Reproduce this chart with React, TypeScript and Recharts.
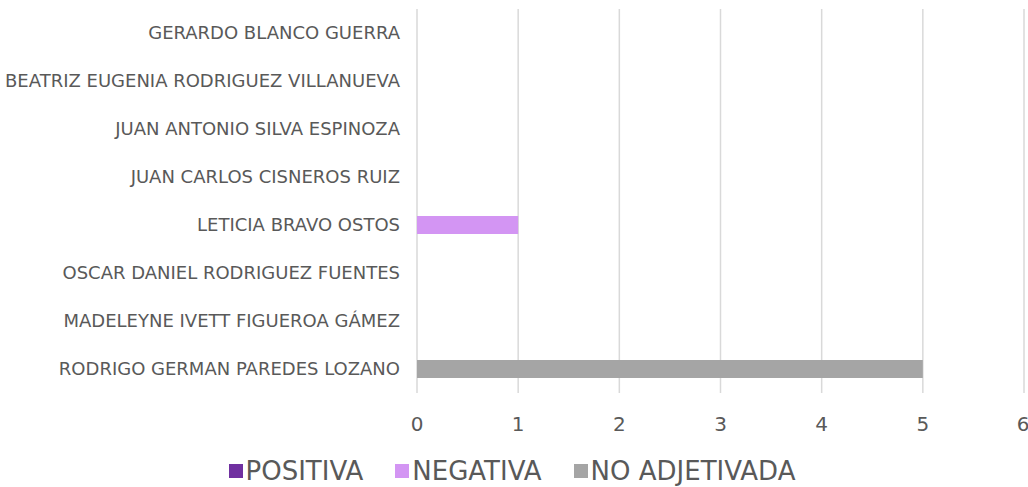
import React from 'react';
import { BarChart, Bar, XAxis, YAxis, CartesianGrid, Legend } from 'recharts';

const categories = [
  'GERARDO BLANCO GUERRA',
  'BEATRIZ EUGENIA RODRIGUEZ VILLANUEVA',
  'JUAN ANTONIO SILVA ESPINOZA',
  'JUAN CARLOS CISNEROS RUIZ',
  'LETICIA BRAVO OSTOS',
  'OSCAR DANIEL RODRIGUEZ FUENTES',
  'MADELEYNE IVETT FIGUEROA GÁMEZ',
  'RODRIGO GERMAN PAREDES LOZANO',
];
const positiva = [0, 0, 0, 0, 0, 0, 0, 0];
const negativa = [0, 0, 0, 0, 1, 0, 0, 0];
const noAdjetivada = [0, 0, 0, 0, 0, 0, 0, 5];
const xTicks = [0, 1, 2, 3, 4, 5, 6];

const series = [
  { key: 'positiva', name: 'POSITIVA', color: '#7030A0' },
  { key: 'negativa', name: 'NEGATIVA', color: '#D395F3' },
  { key: 'noAdjetivada', name: 'NO ADJETIVADA', color: '#A5A5A5' },
];

const data = categories.map((name, i) => ({
  name,
  positiva: positiva[i],
  negativa: negativa[i],
  noAdjetivada: noAdjetivada[i],
}));

const FONT = '"DejaVu Sans", sans-serif';

// legend row: square swatch + label, centred under the plot
const LegendRow = () => (
  <div style={{ display: 'flex', justifyContent: 'center', fontFamily: FONT, fontSize: 26, color: '#595959', lineHeight: '24px' }}>
    {series.map((s) => (
      <span key={s.key} style={{ display: 'flex', alignItems: 'center', margin: '0 16px' }}>
        <span style={{ width: 14, height: 14, background: s.color, marginRight: 3, display: 'inline-block' }} />
        {s.name}
      </span>
    ))}
  </div>
);

export default function App() {
  return (
    <div style={{ position: 'absolute', left: 0, top: 0, width: 1028, height: 487, background: '#fff' }}>
      <BarChart
        width={1028}
        height={487}
        data={data}
        layout="vertical"
        margin={{ top: 9, right: 4, bottom: 0, left: 0 }}
        barCategoryGap="31%"
      >
        <CartesianGrid horizontal={false} stroke="#D9D9D9" strokeWidth={1.5} />
        <XAxis
          type="number"
          domain={[0, 6]}
          ticks={xTicks}
          axisLine={false}
          tickLine={false}
          tick={{ fill: '#595959', fontSize: 20, fontFamily: FONT }}
          tickMargin={18}
          height={52}
        />
        <YAxis
          type="category"
          dataKey="name"
          width={417}
          axisLine={false}
          tickLine={false}
          tick={{ fill: '#595959', fontSize: 18, fontFamily: FONT }}
          tickMargin={11}
        />
        <Legend
          verticalAlign="bottom"
          height={42}
          wrapperStyle={{ top: 459, bottom: 'auto' }}
          content={() => <LegendRow />}
        />
        {series.map((s) => (
          <Bar key={s.key} dataKey={s.key} name={s.name} stackId="a" fill={s.color} isAnimationActive={false} />
        ))}
      </BarChart>
    </div>
  );
}
